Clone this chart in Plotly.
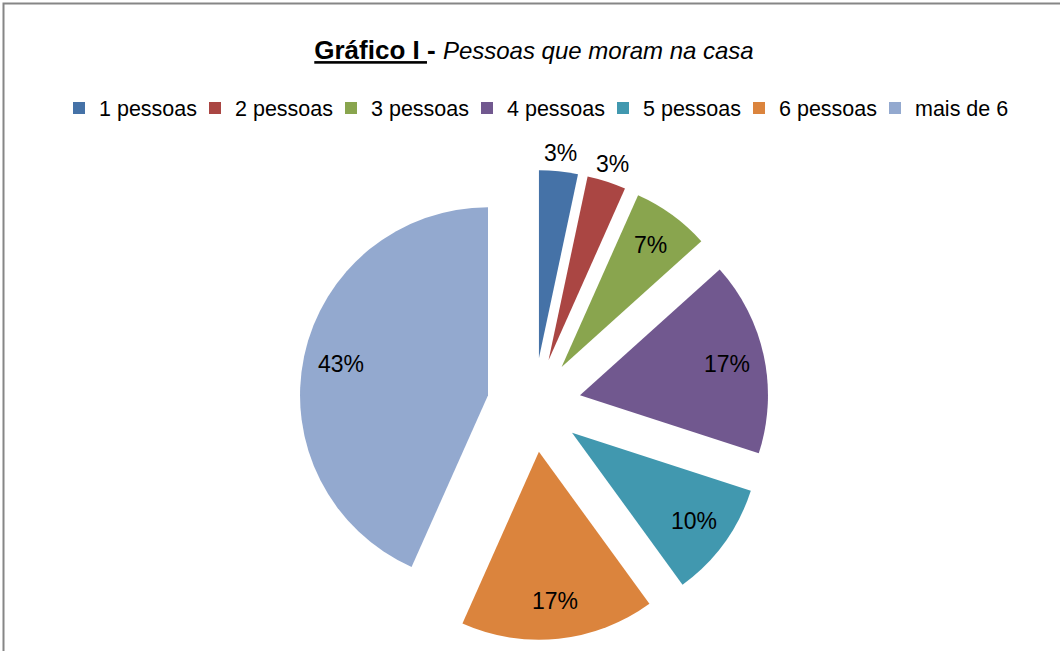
import math

import plotly.graph_objects as go

# household size counts (30 respondents)
labels = ["1 pessoas", "2 pessoas", "3 pessoas", "4 pessoas", "5 pessoas", "6 pessoas", "mais de 6"]
counts = [1, 1, 2, 5, 3, 5, 13]
colors = ["#4572A7", "#AA4643", "#89A54E", "#71588F", "#4198AF", "#DB843D", "#93A9CF"]
label_outside = [True, True, False, False, False, False, False]

W, H = 1060, 651
FONT = "Liberation Sans, Arial, sans-serif"
PULL = 0.25

# pie box in pixels (square, so radius = side / 2 / (1 + pull))
box_x0, box_x1 = 299, 769
box_top, box_bottom = 170, 640
cx, cy = (box_x0 + box_x1) / 2, (box_top + box_bottom) / 2
radius = (box_x1 - box_x0) / 2 / (1 + PULL)

fig = go.Figure(
    go.Pie(
        labels=labels,
        values=counts,
        sort=False,
        direction="clockwise",
        rotation=0,
        pull=[PULL] * len(counts),
        marker=dict(colors=colors, line=dict(width=0)),
        textinfo="none",
        hoverinfo="label+value+percent",
        domain=dict(x=[box_x0 / W, box_x1 / W], y=[1 - box_bottom / H, 1 - box_top / H]),
    )
)

# data labels the way Excel places them: along each slice bisector
total = sum(counts)
cum = 0
for value, outside in zip(counts, label_outside):
    mid = 2 * math.pi * (cum + value / 2) / total
    cum += value
    r = (PULL + (1.1 if outside else 0.8)) * radius
    px_x = cx + r * math.sin(mid)
    px_y = cy - r * math.cos(mid)
    fig.add_annotation(
        x=px_x / W,
        y=1 - px_y / H,
        xref="paper",
        yref="paper",
        xanchor="center",
        yanchor="middle",
        text=f"{round(100 * value / total)}%",
        showarrow=False,
        font=dict(family=FONT, size=23, color="#000000"),
    )

fig.update_layout(
    width=W,
    height=H,
    margin=dict(l=0, r=0, t=0, b=0, autoexpand=False),
    paper_bgcolor="white",
    plot_bgcolor="white",
    font=dict(family=FONT, color="#000000"),
    title=dict(
        text="<b><u>Gráfico I </u>-</b> <span style='font-size:24px'><i>Pessoas que moram na casa</i></span>",
        font=dict(family=FONT, size=26, color="#000000"),
        x=534 / W,
        xanchor="center",
        y=1 - 50 / H,
        yanchor="middle",
    ),
    legend=dict(
        orientation="h",
        x=535 / W,
        xanchor="center",
        y=1 - 108 / H,
        yanchor="middle",
        entrywidth=91,
        font=dict(family=FONT, size=21.5, color="#000000"),
        bgcolor="rgba(0,0,0,0)",
        itemclick=False,
    ),
    shapes=[
        dict(
            type="rect",
            xref="paper",
            yref="paper",
            x0=3.5 / W,
            x1=1.05,
            y0=-0.05,
            y1=1 - 3.5 / H,
            line=dict(color="#868686", width=2),
            fillcolor="rgba(0,0,0,0)",
            layer="below",
        )
    ],
)

# drop the default body margin so the figure sits at the page origin
fig.write_html(
    "out.html",
    config={"displayModeBar": False},
    post_script="document.body.style.margin = '0';",
)
